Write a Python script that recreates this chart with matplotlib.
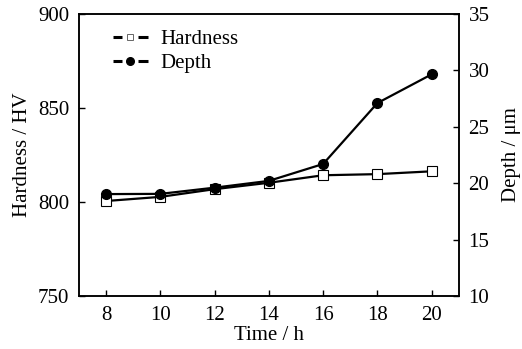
import matplotlib
matplotlib.use("Agg")
import matplotlib.pyplot as plt
from matplotlib.legend_handler import HandlerBase
from matplotlib.lines import Line2D

time_h = [8, 10, 12, 14, 16, 18, 20]
hardness = [800.5, 802.7, 806.8, 810.2, 814.2, 814.8, 816.3]
depth = [19.03, 19.05, 19.6, 20.2, 21.7, 27.1, 29.65]

plt.rcParams['font.family'] = ['Liberation Serif', 'DejaVu Serif']
plt.rcParams['font.size'] = 15


class DashMarkerHandler(HandlerBase):
    # a dash on each side of a small marker, with a gap around it
    def create_artists(self, legend, orig, xdescent, ydescent, width, height,
                       fontsize, trans):
        y = height / 2 - ydescent
        x0 = -xdescent
        x1 = x0 + width
        xm = (x0 + x1) / 2
        gap = width * 0.22
        left = Line2D([x0, xm - gap], [y, y], color='k', lw=2.2,
                      solid_capstyle='butt')
        right = Line2D([xm + gap, x1], [y, y], color='k', lw=2.2,
                       solid_capstyle='butt')
        mark = Line2D([xm], [y], ls='none', marker=orig.get_marker(),
                      ms=orig.get_markersize(), mfc=orig.get_markerfacecolor(),
                      mec=orig.get_markeredgecolor(), mew=orig.get_markeredgewidth())
        for a in (left, right, mark):
            a.set_transform(trans)
        return [left, right, mark]


fig = plt.figure(figsize=(5.22, 3.49), dpi=100)
ax = fig.add_axes([0.151, 0.152, 0.728, 0.808])
ax2 = ax.twinx()

ax.plot(time_h, hardness, color='k', lw=1.6, marker='s', ms=7,
        mfc='white', mec='k', mew=0.8, zorder=3)
ax2.plot(time_h, depth, color='k', lw=1.6, marker='o', ms=7,
         mfc='k', mec='k', zorder=2)

ax.set_xlim(7, 21)
ax.set_ylim(750, 900)
ax.set_xticks(time_h)
ax.set_yticks([750, 800, 850, 900])
ax2.set_ylim(10, 35)
ax2.set_yticks([10, 15, 20, 25, 30, 35])

ax.set_xlabel("Time / h", labelpad=1)
ax.set_ylabel("Hardness / HV", labelpad=4)
ax2.set_ylabel("Depth / μm", labelpad=9)

for a in (ax, ax2):
    a.tick_params(direction='in', length=4, width=1, pad=7)
    for s in a.spines.values():
        s.set_linewidth(1.1)

h1 = Line2D([], [], marker='s', ms=4, mfc='white', mec='0.4', mew=0.7)
h2 = Line2D([], [], marker='o', ms=5.5, mfc='k', mec='k')
ax.legend([h1, h2], ['Hardness', 'Depth'], loc='upper left',
          bbox_to_anchor=(0.04, 1.01), frameon=False, handlelength=1.667,
          handletextpad=0.6, labelspacing=0.2, fontsize=15,
          handler_map={h1: DashMarkerHandler(), h2: DashMarkerHandler()})

fig.savefig("out.png", dpi=100)
